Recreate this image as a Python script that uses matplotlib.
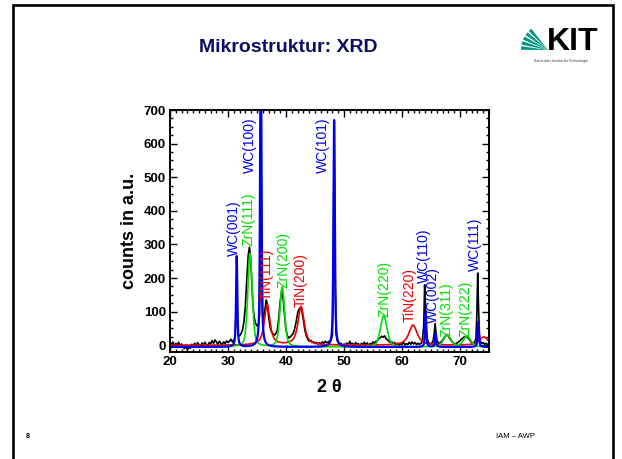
import numpy as np
import matplotlib.pyplot as plt
from matplotlib.ticker import MultipleLocator
from matplotlib.patches import Wedge

plt.rcParams['font.family'] = ['Liberation Sans', 'DejaVu Sans']

# measured XRD pattern: (2 theta, counts)
meas = [
    (20.0, 8), (20.25, 2), (20.5, 10), (20.75, -2), (21.0, 6), (21.25, 0), (21.5, 9), (21.75, -3),
    (22.0, 4), (22.25, -6), (22.5, -10), (22.75, 2), (23.0, -14), (23.25, -4), (23.5, -9), (23.75, 3),
    (24.0, -2), (24.25, 6), (24.5, -1), (24.75, 8), (25.0, 2), (25.25, -4), (25.5, 7), (25.75, 1),
    (26.0, 9), (26.25, 3), (26.5, -2), (26.75, 8), (27.0, 4), (27.25, 14), (27.5, 6), (27.75, 16),
    (28.0, 10), (28.25, 3), (28.5, 12), (28.75, 6), (29.0, 2), (29.25, 10), (29.5, 5), (29.75, 13),
    (30.0, 8), (30.25, 12), (30.5, 18), (30.75, 10), (31.0, 15), (31.2, 22), (31.35, 80), (31.5, 210),
    (31.6, 90), (31.75, 30), (32.0, 28), (32.25, 35), (32.5, 45), (32.75, 70), (33.0, 120), (33.25, 200),
    (33.5, 270), (33.7, 292), (33.9, 260), (34.1, 190), (34.3, 120), (34.5, 85), (34.75, 65), (35.0, 58),
    (35.25, 60), (35.45, 90), (35.6, 400), (35.7, 565), (35.8, 300), (35.95, 90), (36.15, 80), (36.4, 110),
    (36.6, 135), (36.8, 120), (37.0, 85), (37.25, 55), (37.5, 40), (37.75, 35), (38.0, 30), (38.25, 35),
    (38.5, 45), (38.75, 80), (39.0, 130), (39.25, 162), (39.5, 140), (39.75, 90), (40.0, 45), (40.25, 28),
    (40.5, 22), (40.75, 25), (41.0, 30), (41.25, 35), (41.5, 50), (41.75, 70), (42.0, 95), (42.25, 108),
    (42.5, 112), (42.75, 100), (43.0, 75), (43.25, 45), (43.5, 28), (43.75, 18), (44.0, 12), (44.25, 15),
    (44.5, 8), (44.75, 10), (45.0, 5), (45.25, 9), (45.5, 3), (45.75, 8), (46.0, 4), (46.25, 10),
    (46.5, 6), (46.75, 12), (47.0, 8), (47.25, 10), (47.5, 12), (47.75, 15), (48.0, 30), (48.15, 200),
    (48.3, 670), (48.45, 250), (48.6, 40), (48.8, 15), (49.0, 8), (49.25, 3), (49.5, 6), (49.75, -2),
    (50.0, 4), (50.25, 1), (50.5, 7), (50.75, 0), (51.0, 12), (51.25, 3), (51.5, 6), (51.75, -1),
    (52.0, 8), (52.25, 2), (52.5, 5), (52.75, -3), (53.0, 6), (53.25, 1), (53.5, 9), (53.75, 2),
    (54.0, 7), (54.25, 0), (54.5, 5), (54.75, 3), (55.0, 10), (55.25, 6), (55.5, 12), (55.75, 14),
    (56.0, 20), (56.25, 22), (56.5, 27), (56.75, 24), (57.0, 28), (57.25, 20), (57.5, 16), (57.75, 12),
    (58.0, 8), (58.25, 10), (58.5, 4), (58.75, 8), (59.0, 2), (59.25, 6), (59.5, 0), (59.75, 5),
    (60.0, 3), (60.25, 8), (60.5, 1), (60.75, 5), (61.0, 2), (61.25, 9), (61.5, 3), (61.75, 10),
    (62.0, 4), (62.25, 8), (62.5, 2), (62.75, 6), (63.0, 3), (63.25, 5), (63.5, 12), (63.75, 60),
    (63.9, 180), (64.05, 120), (64.2, 40), (64.4, 15), (64.6, 8), (64.85, 4), (65.1, 6), (65.35, 12),
    (65.55, 35), (65.7, 65), (65.85, 40), (66.0, 15), (66.25, 8), (66.5, 5), (66.75, 10), (67.0, 15),
    (67.25, 22), (67.5, 28), (67.75, 32), (68.0, 27), (68.25, 20), (68.5, 14), (68.75, 8), (69.0, 6),
    (69.25, 3), (69.5, 7), (69.75, 10), (70.0, 14), (70.25, 18), (70.5, 22), (70.75, 25), (71.0, 26),
    (71.25, 24), (71.5, 20), (71.75, 14), (72.0, 8), (72.25, 5), (72.5, 9), (72.75, 20), (72.9, 90),
    (73.05, 215), (73.2, 110), (73.35, 30), (73.5, 12), (73.75, 5), (74.0, 8), (74.25, 3), (74.5, 6),
    (74.75, 2), (75.0, 5),
]
meas_tth = np.array([p[0] for p in meas])
meas_cnt = np.array([p[1] for p in meas])

# fitted reflections per phase: position, height above baseline, FWHM
wc_pos = [31.5, 35.65, 48.3, 64.08, 65.78, 73.15]
wc_hgt = [270, 1000, 675, 100, 40, 75]
wc_fwhm = [0.26, 0.26, 0.28, 0.25, 0.25, 0.26]
zrn_pos = [33.8, 39.35, 56.85, 67.8, 71.2]
zrn_hgt = [278, 178, 92, 36, 32]
zrn_fwhm = [0.9, 0.95, 1.35, 1.5, 1.5]
tin_pos = [36.75, 42.6, 61.9, 74.1]
tin_hgt = [120, 115, 60, 25]
tin_fwhm = [1.15, 1.25, 1.7, 1.7]

wc_labels = ["WC(001)", "WC(100)", "WC(101)", "WC(110)", "WC(002)", "WC(111)"]
wc_lx = [31.1, 33.8, 46.3, 63.8, 65.4, 72.6]
wc_ly = [267, 513, 513, 185, 65, 220]
zrn_labels = ["ZrN(111)", "ZrN(200)", "ZrN(220)", "ZrN(311)", "ZrN(222)"]
zrn_lx = [33.6, 39.5, 56.9, 67.7, 71.0]
zrn_ly = [294, 170, 85, 26, 26]
tin_labels = ["TiN(111)", "TiN(200)", "TiN(220)"]
tin_lx = [36.7, 42.6, 61.3]
tin_ly = [135, 115, 70]


def profile(x, pos, hgt, fwhm, eta, base):
    y = np.full_like(x, base, dtype=float)
    for p, h, w in zip(pos, hgt, fwhm):
        g = np.exp(-4 * np.log(2) * ((x - p) / w) ** 2)
        l = 1 / (1 + 4 * ((x - p) / w) ** 2)
        y += h * (eta * l + (1 - eta) * g)
    return y


BLUE = '#0000ee'
GREEN = '#00dd00'
RED = '#ee0000'

fig = plt.figure(figsize=(6.22, 4.59), dpi=100)

# slide background: frame, title, logo, footer
bg = fig.add_axes([0, 0, 1, 1])
bg.set_xlim(0, 622)
bg.set_ylim(0, 459)
bg.axis('off')
bg.plot([13, 13, 613, 613], [0, 454, 454, 0], color='black', lw=1.9, solid_joinstyle='miter')
bg.text(288, 412, "Mikrostruktur: XRD", ha='center', va='center', fontsize=14,
        fontweight='bold', color='#0c0c62')
for a0 in [128, 139, 150, 161, 172]:
    bg.add_patch(Wedge((548, 409), 27, a0, a0 + 7.5, color='#009682', lw=0))
bg.text(547, 409, "KIT", ha='left', va='baseline', fontsize=23, fontweight='bold', color='black')
bg.text(561, 400, "Karlsruher Institut für Technologie", ha='center', va='top',
        fontsize=2.6, color='#333333')
bg.text(28, 23, "8", ha='center', va='center', fontsize=5, fontweight='bold')
bg.text(516, 23, "IAM – AWP", ha='center', va='center', fontsize=5.5)

ax = fig.add_axes([0.2733, 0.2331, 0.5129, 0.5272])
x = np.linspace(20, 75, 3000)

ax.plot(meas_tth, meas_cnt, color='black', lw=1.2)
ax.plot(x, profile(x, tin_pos, tin_hgt, tin_fwhm, 0.8, 0), color=RED, lw=1.2)
ax.plot(x, profile(x, zrn_pos, zrn_hgt, zrn_fwhm, 0.4, -5), color=GREEN, lw=1.2)
ax.plot(x, profile(x, wc_pos, wc_hgt, wc_fwhm, 0.6, -5), color=BLUE, lw=1.6)

for labels, lx, ly, c in [(wc_labels, wc_lx, wc_ly, BLUE),
                          (zrn_labels, zrn_lx, zrn_ly, GREEN),
                          (tin_labels, tin_lx, tin_ly, RED)]:
    for t, xx, yy in zip(labels, lx, ly):
        ax.text(xx, yy, t, rotation=90, ha='center', va='bottom', fontsize=10, color=c)

ax.set_xlim(20, 75)
ax.set_ylim(-20, 700)
ax.xaxis.set_major_locator(MultipleLocator(10))
ax.xaxis.set_minor_locator(MultipleLocator(1))
ax.yaxis.set_major_locator(MultipleLocator(100))
ax.yaxis.set_minor_locator(MultipleLocator(25))
ax.tick_params(which='both', direction='in', top=True, right=True, width=1.0)
ax.tick_params(which='major', length=5, labelsize=9.5, pad=3)
ax.tick_params(which='minor', length=2.5)
for lab in ax.get_xticklabels() + ax.get_yticklabels():
    lab.set_fontweight('bold')
for s in ax.spines.values():
    s.set_linewidth(1.4)
ax.set_xlabel("2 θ", fontsize=13, fontweight='bold', labelpad=8)
ax.set_ylabel("counts in a.u.", fontsize=13, fontweight='bold', labelpad=4)

fig.savefig("out.png", dpi=100)
